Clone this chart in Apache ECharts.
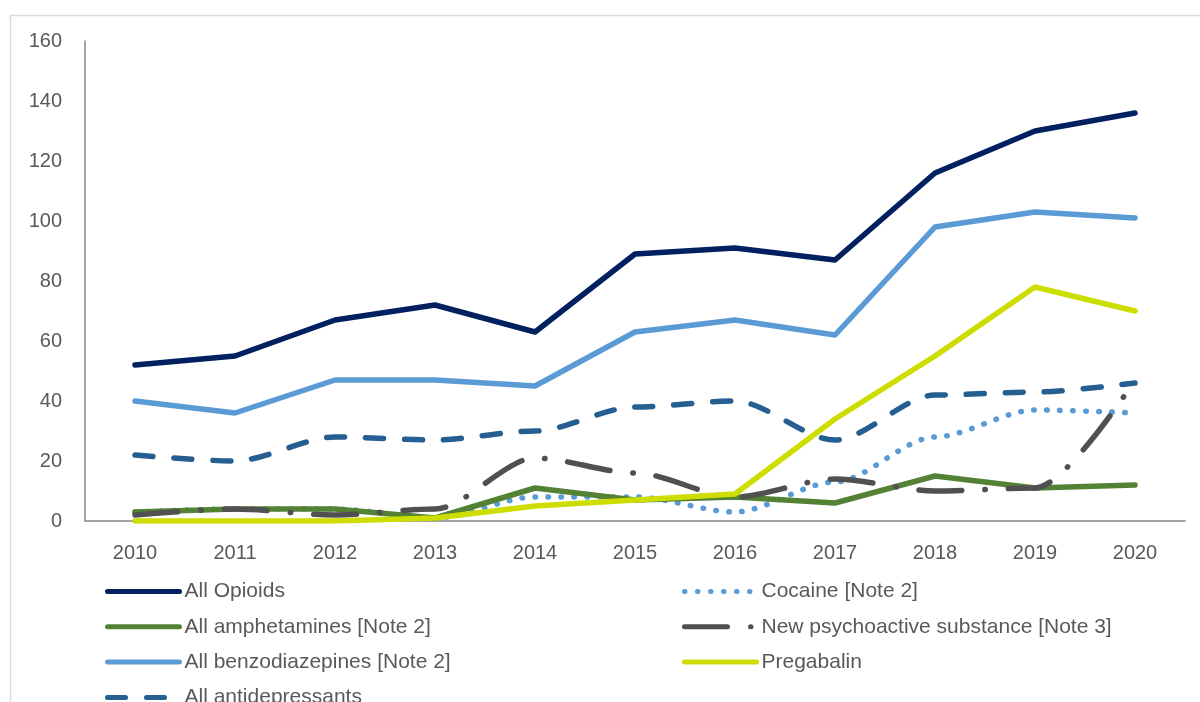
<!DOCTYPE html>
<html>
<head>
<meta charset="utf-8">
<script src="https://cdn.jsdelivr.net/npm/echarts@6/dist/echarts.min.js"></script>
<style>
html,body{margin:0;padding:0;background:#fff;}
#chart{width:1200px;height:702px;}
</style>
</head>
<body>
<div id="chart"></div>
<script>
const years = ['2010','2011','2012','2013','2014','2015','2016','2017','2018','2019','2020'];
const opioids = [52, 55, 67, 72, 63, 89, 91, 87, 116, 130, 136];
const cocaine = [3, 4, 4, 1, 8, 8, 3, 13, 28, 37, 36];
const amphetamines = [3, 4, 4, 1, 11, 7, 8, 6, 15, 11, 12];
const nps = [2, 4, 2, 4, 21, 16, 8, 14, 10, 11, 47];
const benzos = [40, 36, 47, 47, 45, 63, 67, 62, 98, 103, 101];
const pregabalin = [0, 0, 0, 1, 5, 7, 9, 34, 55, 78, 70];
const antidepressants = [22, 20, 28, 27, 30, 38, 40, 27, 42, 43, 46];
const yTicks = [0, 20, 40, 60, 80, 100, 120, 140, 160];

const FONT = '"Liberation Sans", Arial, sans-serif';
const TXT = '#595959';
const LW = 5;

const styles = {
  'All Opioids': { color: '#002060', type: 'solid', smooth: false },
  'Cocaine [Note 2]': { color: '#5b9bd5', type: [0.5, 12.5], smooth: true },
  'All amphetamines [Note 2]': { color: '#548235', type: 'solid', smooth: false },
  'New psychoactive substance [Note 3]': { color: '#505050', type: [43, 23, 0.5, 23], smooth: true },
  'All benzodiazepines [Note 2]': { color: '#5b9bd5', type: 'solid', smooth: false },
  'Pregabalin': { color: '#cedd00', type: 'solid', smooth: false },
  'All antidepressants': { color: '#255e91', type: [18, 21], smooth: true }
};

function mk(name, data) {
  const s = styles[name];
  return {
    name, type: 'line', data, symbol: 'none', smooth: s.smooth ? 0.3 : false,
    smoothMonotone: s.smooth ? 'x' : undefined,
    lineStyle: { color: s.color, width: LW + 0.5, type: s.type, cap: 'round', join: 'round' },
    itemStyle: { color: s.color },
    emphasis: { disabled: true }
  };
}

function legendItem(name) {
  const s = styles[name];
  return {
    name,
    itemStyle: { opacity: 0, borderWidth: 0 },
    lineStyle: { color: s.color, width: LW, type: s.type, cap: 'round', opacity: 1 }
  };
}

const legendBase = {
  orient: 'vertical', top: 581, padding: 0, height: 200,
  itemWidth: 72, itemHeight: 20, itemGap: 14.3,
  textStyle: { color: TXT, fontFamily: FONT, fontSize: 21, lineHeight: 20 },
  selectedMode: false
};

const chart = echarts.init(document.getElementById('chart'), null, { renderer: 'canvas' });
chart.setOption({
  animation: false,
  backgroundColor: '#fff',
  graphic: [{
    type: 'rect', shape: { x: 10.5, y: 15.5, width: 1400, height: 900 },
    style: { fill: 'none', stroke: '#d9d9d9', lineWidth: 1.5 }, silent: true, z: -10
  }],
  grid: { left: 85, right: 15, top: 41, bottom: 181 },
  xAxis: {
    type: 'category', data: years, boundaryGap: true,
    axisLine: { show: true, lineStyle: { color: '#868686', width: 1.5 } },
    axisTick: { show: false },
    axisLabel: { color: TXT, fontFamily: FONT, fontSize: 20, margin: 22 }
  },
  yAxis: {
    type: 'value', min: 0, max: 160, interval: 20,
    axisLine: { show: true, lineStyle: { color: '#868686', width: 1.5 } },
    axisTick: { show: false },
    splitLine: { show: false },
    axisLabel: { color: TXT, fontFamily: FONT, fontSize: 20, margin: 23,
      formatter: v => yTicks.includes(v) ? String(v) : '' }
  },
  legend: [
    Object.assign({}, legendBase, { left: 105,
      data: ['All Opioids', 'All amphetamines [Note 2]', 'All benzodiazepines [Note 2]', 'All antidepressants'].map(legendItem) }),
    Object.assign({}, legendBase, { left: 682,
      data: ['Cocaine [Note 2]', 'New psychoactive substance [Note 3]', 'Pregabalin'].map(legendItem) })
  ],
  series: [
    mk('All Opioids', opioids),
    mk('Cocaine [Note 2]', cocaine),
    mk('All amphetamines [Note 2]', amphetamines),
    mk('New psychoactive substance [Note 3]', nps),
    mk('All benzodiazepines [Note 2]', benzos),
    mk('Pregabalin', pregabalin),
    mk('All antidepressants', antidepressants)
  ]
});
</script>
</body>
</html>
